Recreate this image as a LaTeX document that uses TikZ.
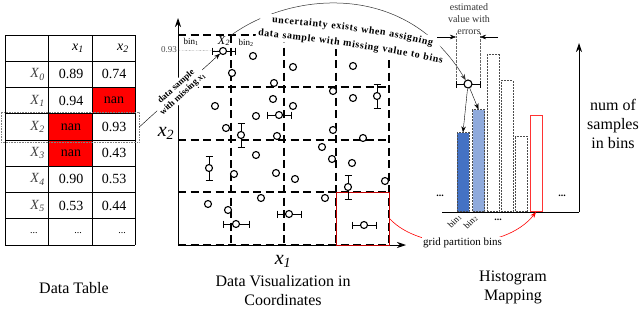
\documentclass[tikz,border=0pt]{standalone}
\usepackage{fontspec}
\setmainfont{Liberation Serif}
\usetikzlibrary{arrows.meta,decorations.text}
\definecolor{blueA}{HTML}{4472C4}
\definecolor{blueB}{HTML}{8FAADC}
\definecolor{darkred}{HTML}{C00000}
\newcommand{\ivar}[2]{\textit{#1}\textsubscript{\textit{#2}}}
\begin{document}
\begin{tikzpicture}[x=1pt,y=-1pt,
    cell/.style={font=\fontsize{14}{16}\selectfont,inner sep=0pt},
    spt/.style={circle,draw,fill=white,line width=1.1pt,minimum size=7pt,inner sep=0pt},
    gridline/.style={dash pattern=on 8pt off 4.5pt,line width=1.4pt},
    ebar/.style={line width=0.9pt},
    bar/.style={draw=black!70,dash pattern=on 2pt off 1pt,line width=0.6pt,minimum width=12pt,inner sep=0pt,anchor=south},
    caption/.style={font=\fontsize{16}{19}\selectfont,align=center},
    small/.style={font=\fontsize{9}{10}\selectfont,inner sep=1pt},
    curvetext/.style={decorate,decoration={text along path,text align=fit to path,text={|\bfseries\fontsize{10}{12}\selectfont|#1}}},
    >={Stealth[length=6pt,width=4.5pt]}]
    \useasboundingbox (0,0) rectangle (640,308);
    \fill[red] (92,87.5) rectangle (135,113.75);\fill[red] (48,113.75) rectangle (92,166.25);
    \foreach \r in {0,...,8} \draw[line width=0.6pt] (5,35+26.25*\r) -- (135,35+26.25*\r);
    \foreach \c in {5,48,92,135} \draw[line width=0.6pt] (\c,35) -- (\c,245);
    \node[cell,anchor=east] (h1) at (84,48) {\ivar{x}{1}};\node[cell,anchor=east] (h2) at (129,48) {\ivar{x}{2}};
    \foreach \lab/\va/\vb [count=\i from 0] in {0/0.89/0.74,1/0.94/nan,2/nan/0.93,3/nan/0.43,4/0.90/0.53,5/0.53/0.44} {
        \node[cell,anchor=east,text=black!75] (r\i) at (45,74.4+26.25*\i) {\ivar{X}{\lab}};
        \node[cell] (a\i) at (71,74.4+26.25*\i) {\va};\node[cell] (b\i) at (114,74.4+26.25*\i) {\vb};
    }
    \node[font=\fontsize{10}{12}\selectfont] (d0) at (34,233) {...};\node[font=\fontsize{10}{12}\selectfont] (d1) at (78,233) {...};\node[font=\fontsize{10}{12}\selectfont] (d2) at (122,233) {...};
    \node[draw=black!50,densely dotted,line width=0.6pt,minimum width=138pt,minimum height=30pt,inner sep=0pt] (sel) at (70,127) {};
    \node[caption] (capT) at (74,288) {Data Table};

    \draw[line width=0.8pt,-{Stealth[length=9pt,width=6pt]}] (178,245) -- (406,245);
    \draw[line width=0.8pt,-{Stealth[length=9pt,width=6pt]}] (178,245) -- (178,18);
    \foreach \v in {231,284,336,389} \draw[gridline] (\v,35) -- (\v,245);
    \foreach \h in {35,87,140,192,245} \draw[gridline] (178,\h) -- (389,\h);
    \node[draw=darkred,line width=1pt,minimum size=53pt,inner sep=0pt] (rbox) at (362.5,218.5) {};
    \foreach \x/\y/\d in {223.5/51/11.5,279/115/12,236/224/13,289/214/12,364/225/12}
        \draw[ebar] (\x-\d,\y) -- (\x+\d,\y) (\x-\d,\y-3.5) -- (\x-\d,\y+3.5) (\x+\d,\y-3.5) -- (\x+\d,\y+3.5);
    \foreach \x/\y/\d in {377/96/12,241/135/12,209/168/12,348/187/12}
        \draw[ebar] (\x,\y-\d) -- (\x,\y+\d) (\x-3.5,\y-\d) -- (\x+3.5,\y-\d) (\x-3.5,\y+\d) -- (\x+3.5,\y+\d);
    \foreach \x/\y [count=\i] in {253/56,232/73,293/67,353/66,274/83,333/91,353/98,377/96,215/106,273/99,293/106,256/116,279/115,226/128,241/135,277/136,333/130,363/138,322/147,256/155,332/159,352/163,209/168,234/174,276/173,295/179,348/187,385/181,208/204,261/198,325/198,228/210,236/224,289/214,364/225}
        \node[spt] (p\i) at (\x,\y) {};
    \node[spt] (pX) at (223,51) {};
    \node[small] (lb1) at (191,42) {bin\textsubscript{1}};\node[small] (lb2) at (246,43) {bin\textsubscript{2}};
    \node[font=\fontsize{12}{14}\selectfont,inner sep=0.5pt] (lblX) at (224,41) {\ivar{X}{2}};
    \node[small,anchor=east,text=black!70] (v093) at (178,50) {0.93};
    \draw[densely dotted,black!60] (v093) -- (pX);
    \node[font=\fontsize{20}{24}\selectfont] (ax1) at (283,261) {\ivar{x}{1}};\node[font=\fontsize{20}{24}\selectfont] (ax2) at (166,133) {\ivar{x}{2}};
    \node[caption] (capV) at (283,291) {Data Visualization in\\Coordinates};
    \draw[->] (sel.east) -- (pX) node[midway,sloped,fill=white,inner sep=1pt,font=\bfseries\fontsize{9}{10}\selectfont,align=center] (lblM) {data sample\\with missing \textit{x}\textsubscript{1}};

    \draw[line width=0.5pt] (456,84) -- (480,84) (456,80.5) -- (456,87.5) (480,80.5) -- (480,87.5);
    \node[spt,minimum size=8pt] (hpt) at (468,84) {};
    \draw[black!80,line width=0.5pt,->] (lblX.north east) .. controls (290,-8) and (405,-20) .. (hpt);
    \fill[white] (257,27) -- (262,14) -- (272,14) .. controls (320,17) and (390,25) .. (436,37) -- (450,68) .. controls (390,56) and (310,44) .. (255,40) -- cycle;
    \path[curvetext={uncertainty exists when assigning}] (272,23) .. controls (320,26) and (390,34) .. (432,46);
    \path[curvetext={data sample with missing value to bins}] (258,36) .. controls (310,40) and (390,52) .. (442,63);

    \node[bar,fill=blueA,minimum height=79pt] (b1) at (463,212) {};
    \node[bar,fill=blueB,minimum height=102pt] (b2) at (478.5,212) {};
    \node[bar,fill=white,minimum height=157pt] (b3) at (493,212) {};
    \node[bar,fill=white,minimum height=131pt] (b4) at (507,212) {};
    \node[bar,fill=white,minimum height=75pt] (b5) at (521.5,212) {};
    \node[bar,draw=red!80,solid,fill=white,minimum height=96pt,line width=0.9pt] (b6) at (536,212) {};
    \draw[line width=1pt] (442,212) -- (579,212);\draw[line width=1pt,-{Stealth[length=9pt,width=6pt]}] (579,212) -- (579,43);
    \draw[->] (hpt) -- (b1.north);\draw[->] (hpt) -- (b2.north);
    \draw[densely dotted,black!60] (456,33) -- (456,80) (480,33) -- (480,80);
    \draw[->] (437,37) -- (456,37);\draw[->] (498,37) -- (480,37);
    \node[font=\fontsize{10}{12}\selectfont,align=center,text=black!80] (est) at (469,19) {estimated\\value with\\errors};
    \node[font=\bfseries\fontsize{10}{12}\selectfont] (dl) at (440,196) {...};\node[font=\bfseries\fontsize{10}{12}\selectfont] (dr) at (562,196) {...};
    \node[font=\bfseries\fontsize{10}{12}\selectfont] (db) at (498,220) {...};
    \node[small,rotate=45,anchor=east] (hb1) at (461,215) {bin\textsubscript{1}};\node[small,rotate=45,anchor=east] (hb2) at (477,216) {bin\textsubscript{2}};
    \draw[red,line width=0.6pt,->] (rbox.east) .. controls (420,252) and (505,252) .. (b6.south) node[pos=0.5,fill=white,text=black,inner sep=1pt,font=\fontsize{11}{12}\selectfont] (gpb) {grid partition bins};
    \node[caption] (capH) at (513,287) {Histogram\\Mapping};
    \node[caption] (capN) at (613,124) {num of\\samples\\in bins};
\end{tikzpicture}
\end{document}
